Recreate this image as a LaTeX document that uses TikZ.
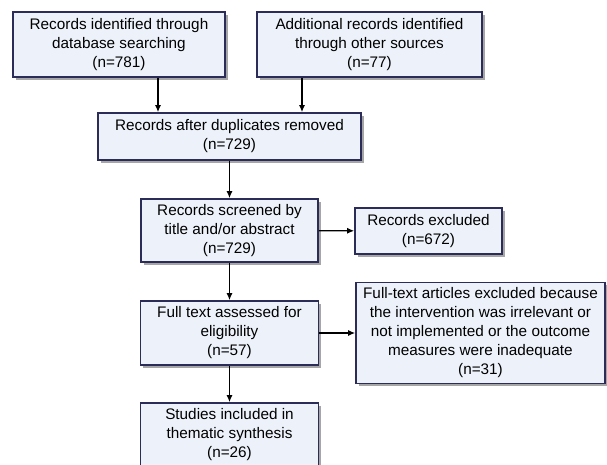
\documentclass[tikz,border=0pt]{standalone}
\usepackage{fontspec}
\setmainfont{Liberation Sans}
\usetikzlibrary{arrows.meta, shadows}

\begin{document}
\begin{tikzpicture}[x=1pt, y=-1pt,
        box/.style={rectangle, draw={rgb,255:red,44;green,44;blue,88}, line width=1.6pt,
            fill={rgb,255:red,237;green,242;blue,250}, inner sep=0pt, align=center,
            font=\fontsize{15.3}{19}\selectfont,
            drop shadow={shadow xshift=2.5pt, shadow yshift=-2.5pt, fill=black, opacity=0.35}},
        arr/.style={-{Latex[length=7pt, width=6pt]}, line width=1.3pt}]
            \clip (0, 0) rectangle (607, 464);
            \useasboundingbox (0, 0) rectangle (607, 464);

            \node[box, minimum width=212pt, minimum height=65pt] (records) at (119, 44.5) {Records identified through\\database searching\\(n=781)};
            \node[box, minimum width=225pt, minimum height=65pt] (additional) at (369.5, 44.5) {Additional records identified\\through other sources\\(n=77)};
            \node[box, minimum width=263pt, minimum height=47pt] (dupl) at (229.5, 136.5) {Records after duplicates removed\\(n=729)};
            \node[box, minimum width=177pt, minimum height=63pt] (screened) at (229.5, 230.5) {Records screened by\\title and/or abstract\\(n=729)};
            \node[box, minimum width=147pt, minimum height=46pt] (excl) at (428.5, 231) {Records excluded\\(n=672)};
            \node[box, minimum width=178pt, minimum height=64pt] (fulltext) at (229.5, 333) {Full text assessed for\\eligibility\\(n=57)};
            \node[box, minimum width=249pt, minimum height=101pt] (ftexcl) at (480.5, 333) {Full-text articles excluded because\\the intervention was irrelevant or\\not implemented or the outcome\\measures were inadequate\\(n=31)};
            \node[box, minimum width=178pt, minimum height=64pt] (included) at (229.5, 435) {Studies included in\\thematic synthesis\\(n=26)};

            \draw[arr] ([xshift=39pt]records.south) -- ([xshift=39pt]records.south |- dupl.north);
            \draw[arr] ([xshift=-67.5pt]additional.south) -- ([xshift=-67.5pt]additional.south |- dupl.north);
            \draw[arr] (dupl) -- (screened);
            \draw[arr] (screened) -- (excl);
            \draw[arr] (screened) -- (fulltext);
            \draw[arr] (fulltext) -- (ftexcl);
            \draw[arr] (fulltext) -- (included);
        \end{tikzpicture}
\end{document}
